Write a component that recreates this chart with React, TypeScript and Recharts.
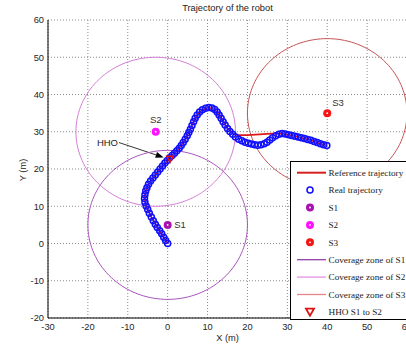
import React from "react";
import { ScatterChart, Scatter, XAxis, YAxis, CartesianGrid, ReferenceLine, Legend } from "recharts";

// axes
const X_TICKS = [-30, -20, -10, 0, 10, 20, 30, 40, 50, 60];
const Y_TICKS = [-20, -10, 0, 10, 20, 30, 40, 50, 60];

// base stations (m) and coverage radius
const STATIONS = [
  { name: "S1", x: 0, y: 5 },
  { name: "S2", x: -3, y: 30 },
  { name: "S3", x: 40, y: 35 },
];
const COVERAGE_R = 20;

// trajectories, [x, y] in metres
const REAL_TRAJ: [number, number][] = [
  [0, 0], [-0.5, 0.8], [-1, 1.7], [-1.5, 2.6], [-2, 3.4], [-2.6, 4.3], [-3.1, 5.2], [-3.6, 6.1],
  [-4.1, 7.1], [-4.6, 8.1], [-5, 9.1], [-5.4, 10.1], [-5.7, 11.1], [-5.8, 12.1], [-5.7, 13.1],
  [-5.5, 14.1], [-5.2, 15], [-4.8, 15.9], [-4.3, 16.8], [-3.7, 17.6], [-3.1, 18.4], [-2.5, 19.2],
  [-1.9, 20], [-1.3, 20.8], [-0.7, 21.6], [-0.1, 22.3], [0.5, 23], [1.1, 23.6], [1.7, 24.2],
  [2.3, 24.9], [2.9, 25.6], [3.4, 26.3], [3.9, 27.1], [4.4, 28], [4.9, 28.9], [5.3, 29.8],
  [5.7, 30.7], [6.1, 31.7], [6.5, 32.7], [6.9, 33.6], [7.4, 34.5], [8, 35.3], [8.7, 35.9],
  [9.5, 36.3], [10.3, 36.5], [11.1, 36.4], [11.8, 36], [12.4, 35.3], [12.9, 34.5], [13.4, 33.6],
  [13.9, 32.7], [14.4, 31.8], [15, 30.9], [15.6, 30.1], [16.3, 29.3], [17, 28.6], [17.8, 28],
  [18.6, 27.6], [19.4, 27.2], [20.2, 26.9], [21, 26.7], [21.8, 26.5], [22.6, 26.4], [23.4, 26.5],
  [24.2, 26.8], [24.9, 27.2], [25.6, 27.8], [26.3, 28.4], [27.1, 28.9], [27.9, 29.3], [28.7, 29.5],
  [29.5, 29.4], [30.3, 29.2], [31.1, 29], [31.9, 28.8], [32.7, 28.6], [33.5, 28.4], [34.3, 28.2],
  [35.1, 27.9], [35.9, 27.7], [36.7, 27.4], [37.5, 27.1], [38.3, 26.8], [39.1, 26.5], [39.9, 26.3],
];
const REF_TRAJ: [number, number][] = [
  [0, 0], [-2, 3.4], [-4.1, 7.1], [-5.4, 10.1], [-5.8, 12.1], [-5.5, 14.1], [-4.8, 15.9], [-3.7, 17.6],
  [-1.9, 20], [0.5, 23], [2.3, 24.9], [3.9, 27.1], [5.3, 29.8], [6.5, 32.7], [7.4, 34.5], [8.7, 35.9],
  [10.3, 36.5], [11.8, 36], [12.9, 34.5], [13.9, 32.7], [15, 30.9], [16.3, 29.6], [17.5, 29.1],
  [20, 29.1], [23, 29.3], [26, 29.5], [28.7, 29.5], [31.1, 29], [33.5, 28.4], [35.9, 27.7],
  [38.3, 26.8], [40, 26.3],
];

// handover point and its annotation
const HHO_POINT = [{ x: 0.6, y: 22.7 }];
const HHO_TEXT = "HHO";
const HHO_ARROW = [{ x: -12.2, y: 27.1 }, { x: -1, y: 23.1 }];

const LEGEND_LABELS = [
  "Reference trajectory", "Real trajectory", "S1", "S2", "S3",
  "Coverage zone of S1", "Coverage zone of S2", "Coverage zone of S3", "HHO S1 to S2",
];

const STATION_COLOR: Record<string, string> = { S1: "#a812b0", S2: "#ff12ff", S3: "#f51515" };
const ZONE_COLOR: Record<string, string> = { S1: "#a854bb", S2: "#d47fd6", S3: "#c65353" };
const ZONE_LEGEND: Record<string, string> = { S1: "#9242a8", S2: "#e494e4", S3: "#e38686" };
const LABEL_OFFSET: Record<string, [number, number, string]> = {
  S1: [6.5, 0, "start"],
  S2: [0, -12.5, "middle"],
  S3: [5, -10, "start"],
};

const SANS = "'Liberation Sans', Arial, sans-serif";
const SERIF = "'Liberation Serif', 'Times New Roman', serif";

const toPts = (arr: [number, number][]) => arr.map(([x, y]) => ({ x, y }));

// outline of a coverage zone from its centre and radius
function ring(cx: number, cy: number, r: number) {
  const n = 144;
  return Array.from({ length: n + 1 }, (_, i) => {
    const a = (i / n) * 2 * Math.PI;
    return { x: cx + r * Math.cos(a), y: cy + r * Math.sin(a) };
  });
}

const Empty = () => <g />;

const RealDot = (p: any) => (
  <circle cx={p.cx} cy={p.cy} r={3} fill="none" stroke="#1010ff" strokeWidth={1.5} />
);

const StationDot = (p: any) => {
  const name = p.payload.name;
  const [dx, dy, anchor] = LABEL_OFFSET[name];
  return (
    <g>
      <circle cx={p.cx} cy={p.cy} r={4} fill={STATION_COLOR[name]} />
      <circle cx={p.cx} cy={p.cy} r={0.9} fill="#fff" />
      <text x={p.cx + dx} y={p.cy + dy} dy="0.35em" textAnchor={anchor} fontSize={9.5} fill="#333" fontFamily={SANS}>
        {name}
      </text>
    </g>
  );
};

const HhoMark = (p: any) => (
  <polygon
    points={`${p.cx - 3.2},${p.cy - 2.6} ${p.cx + 3.2},${p.cy - 2.6} ${p.cx},${p.cy + 3.2}`}
    fill="none" stroke="#e01010" strokeWidth={1.5}
  />
);

const Arrow = (p: any) => {
  const { x1, y1, x2, y2 } = p;
  const ang = Math.atan2(y2 - y1, x2 - x1);
  const len = 8, half = 3;
  const bx = x2 - len * Math.cos(ang), by = y2 - len * Math.sin(ang);
  const nx = -Math.sin(ang) * half, ny = Math.cos(ang) * half;
  return (
    <g>
      <line x1={x1} y1={y1} x2={bx} y2={by} stroke="#000" strokeWidth={0.8} />
      <polygon points={`${x2},${y2} ${bx + nx},${by + ny} ${bx - nx},${by - ny}`} fill="#000" />
      <text x={x1 - 1} y={y1} dy="0.35em" textAnchor="end" fontSize={9.5} fill="#222" fontFamily={SANS}>
        {HHO_TEXT}
      </text>
    </g>
  );
};

function LegendSymbol({ i, cy }: { i: number; cy: number }) {
  const cx = 19;
  if (i === 0) return <line x1={6} x2={35} y1={cy} y2={cy} stroke="#d42020" strokeWidth={2} />;
  if (i === 1) return <circle cx={cx} cy={cy} r={3} fill="none" stroke="#1010ff" strokeWidth={1.5} />;
  if (i >= 2 && i <= 4) {
    const c = STATION_COLOR[STATIONS[i - 2].name];
    return (
      <g>
        <circle cx={cx} cy={cy} r={4} fill={c} />
        <circle cx={cx} cy={cy} r={0.9} fill="#fff" />
      </g>
    );
  }
  if (i >= 5 && i <= 7) {
    const c = ZONE_LEGEND[STATIONS[i - 5].name];
    return <line x1={6} x2={35} y1={cy} y2={cy} stroke={c} strokeWidth={1.3} />;
  }
  return (
    <polygon points={`${cx - 4},${cy - 3.2} ${cx + 4},${cy - 3.2} ${cx},${cy + 3.8}`} fill="none" stroke="#e01010" strokeWidth={1.8} />
  );
}

function LegendBox() {
  return (
    <div style={{ background: "#fff", border: "1px solid #000", width: 124, height: 157 }}>
      <svg width={124} height={157} style={{ display: "block" }}>
        {LEGEND_LABELS.map((label, i) => {
          const cy = 10.7 + i * 17.4;
          return (
            <g key={label}>
              <LegendSymbol i={i} cy={cy} />
              <text x={37.5} y={cy} dy="0.35em" fontSize={9.2} fill="#222" fontFamily={SERIF}>
                {label}
              </text>
            </g>
          );
        })}
      </svg>
    </div>
  );
}

const tickStyle = { fontSize: 9.3, fill: "#262626", fontFamily: SANS };

export default function App() {
  return (
    <div style={{ position: "absolute", left: 0, top: 0, width: 406, height: 349, overflow: "hidden", background: "#fff" }}>
      <ScatterChart width={420} height={349} margin={{ top: 20, right: 13, bottom: 0, left: 0 }}>
        <CartesianGrid stroke="#8a8a8a" strokeDasharray="1 2" />
        <XAxis
          type="number" dataKey="x" domain={[-30, 60]} ticks={X_TICKS} allowDataOverflow height={31}
          axisLine={{ stroke: "#000" }} tickLine={false} tickSize={4} tickMargin={1} tick={tickStyle}
        />
        <YAxis
          type="number" dataKey="y" domain={[-20, 60]} ticks={Y_TICKS} allowDataOverflow width={48}
          axisLine={{ stroke: "#000" }} tickLine={false} tickSize={2} tickMargin={2} tick={tickStyle}
        />
        {STATIONS.map((s) => (
          <Scatter
            key={`zone-${s.name}`} data={ring(s.x, s.y, COVERAGE_R)} shape={Empty}
            line={{ stroke: ZONE_COLOR[s.name], strokeWidth: 1 }} isAnimationActive={false}
          />
        ))}
        <Scatter data={toPts(REF_TRAJ)} shape={Empty} line={{ stroke: "#e01818", strokeWidth: 1.6 }} isAnimationActive={false} />
        <Scatter data={toPts(REAL_TRAJ)} shape={RealDot} isAnimationActive={false} />
        <Scatter data={STATIONS} shape={StationDot} isAnimationActive={false} />
        <Scatter data={HHO_POINT} shape={HhoMark} isAnimationActive={false} />
        <ReferenceLine segment={HHO_ARROW} shape={Arrow} ifOverflow="visible" />
        <Legend
          content={<LegendBox />} layout="vertical" align="center" verticalAlign="middle"
          wrapperStyle={{ left: 290, top: 161, width: 124, height: 159 }}
        />
      </ScatterChart>
      <div style={{ position: "absolute", left: 48, width: 359, top: 3, textAlign: "center", fontFamily: SANS, fontSize: 9.3, color: "#222" }}>
        Trajectory of the robot
      </div>
      <div style={{ position: "absolute", left: 48, width: 359, top: 333, textAlign: "center", fontFamily: SANS, fontSize: 9.3, color: "#222" }}>
        X (m)
      </div>
      <div
        style={{
          position: "absolute", left: 22.5, top: 170, transform: "translate(-50%, -50%) rotate(-90deg)",
          fontFamily: SANS, fontSize: 9.3, color: "#222", whiteSpace: "nowrap",
        }}
      >
        Y (m)
      </div>
    </div>
  );
}
